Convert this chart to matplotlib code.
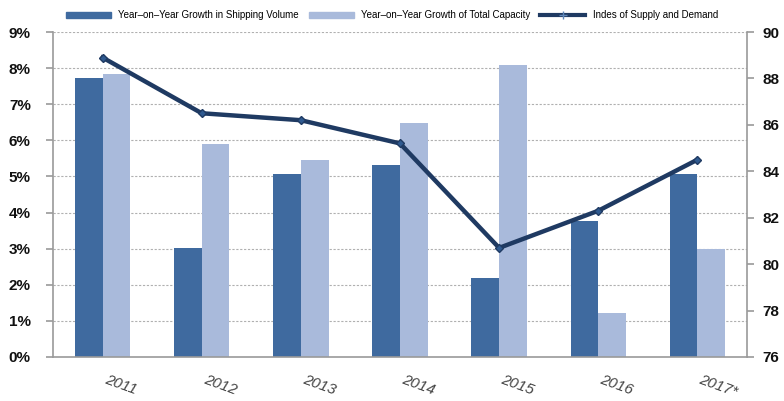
import matplotlib
matplotlib.use("Agg")
import matplotlib.pyplot as plt
from matplotlib.lines import Line2D
from matplotlib.patches import Patch
import numpy as np

years = ["2011", "2012", "2013", "2014", "2015", "2016", "2017*"]
shipping_volume = [7.73, 3.02, 5.08, 5.33, 2.20, 3.76, 5.08]   # %
total_capacity = [7.85, 5.91, 5.45, 6.48, 8.10, 1.22, 2.99]    # %
supply_demand = [88.9, 86.5, 86.2, 85.2, 80.7, 82.3, 84.5]
left_ticks = [0, 1, 2, 3, 4, 5, 6, 7, 8, 9]
right_ticks = [76, 78, 80, 82, 84, 86, 88, 90]
legend_labels = ["Year\u2013on\u2013Year Growth in Shipping Volume",
                 "Year\u2013on\u2013Year Growth of Total Capacity",
                 "Indes of Supply and Demand"]

dark = "#3f6a9f"
light = "#a9badb"
navy = "#1f3a62"
spine_c = "#9a9a9a"

plt.rcParams["font.family"] = ["Liberation Sans", "DejaVu Sans"]

fig = plt.figure(figsize=(7.84, 4.01), dpi=100)
ax = fig.add_axes([53 / 784, 1 - 357 / 401, (747 - 53) / 784, (357 - 32) / 401])
ax2 = ax.twinx()

x = np.arange(len(years))
w = 0.28
ax.bar(x - w / 2, shipping_volume, width=w, color=dark, zorder=2)
ax.bar(x + w / 2, total_capacity, width=w, color=light, zorder=2)

ax2.plot(x, supply_demand, color=navy, lw=3.2, marker="D", ms=4.5,
         mfc="#2f5a90", mec=navy, solid_joinstyle="round", zorder=3)

ax.set_xlim(-0.5, len(years) - 0.5)
ax.set_ylim(0, 9)
ax2.set_ylim(76, 90)

ax.set_yticks(left_ticks)
ax.set_yticklabels([f"{v}%" for v in left_ticks])
ax2.set_yticks(right_ticks)
ax2.set_yticklabels([str(v) for v in right_ticks])

ax.yaxis.grid(True, color="#b0b0b0", linestyle=(0, (2, 1.5)), lw=0.8, zorder=0)
ax.set_axisbelow(True)

for a in (ax, ax2):
    a.spines["top"].set_visible(False)
    for s in ("left", "right", "bottom"):
        a.spines[s].set_color(spine_c)
        a.spines[s].set_linewidth(1.2)
ax.spines["right"].set_visible(False)
ax2.spines["left"].set_visible(False)
ax2.spines["bottom"].set_visible(False)

ax.tick_params(axis="y", length=5, color=spine_c, width=1.2, pad=11,
               labelsize=11)
ax2.tick_params(axis="y", length=5, color=spine_c, width=1.2, pad=6,
                labelsize=11)
for lab in ax.get_yticklabels() + ax2.get_yticklabels():
    lab.set_fontweight("bold")
    lab.set_color("#111111")

ax.set_xticks(x)
ax.set_xticklabels(years)
ax.tick_params(axis="x", length=0, pad=11)
for lab in ax.get_xticklabels():
    lab.set_rotation(-20)
    lab.set_ha("left")
    lab.set_fontsize(11)
    lab.set_style("italic")
    lab.set_color("#444444")

handles = [Patch(color=dark), Patch(color=light),
           Line2D([0], [0], color=navy, lw=3, marker="+", ms=6, mec="#5f86b8")]
fig.legend(handles, legend_labels, loc="center", bbox_to_anchor=(0.5, 0.962),
           ncol=3, frameon=False, fontsize=7, handlelength=4.6,
           handleheight=0.6, handletextpad=0.8, columnspacing=1.0)

fig.savefig("out.png", dpi=100)
